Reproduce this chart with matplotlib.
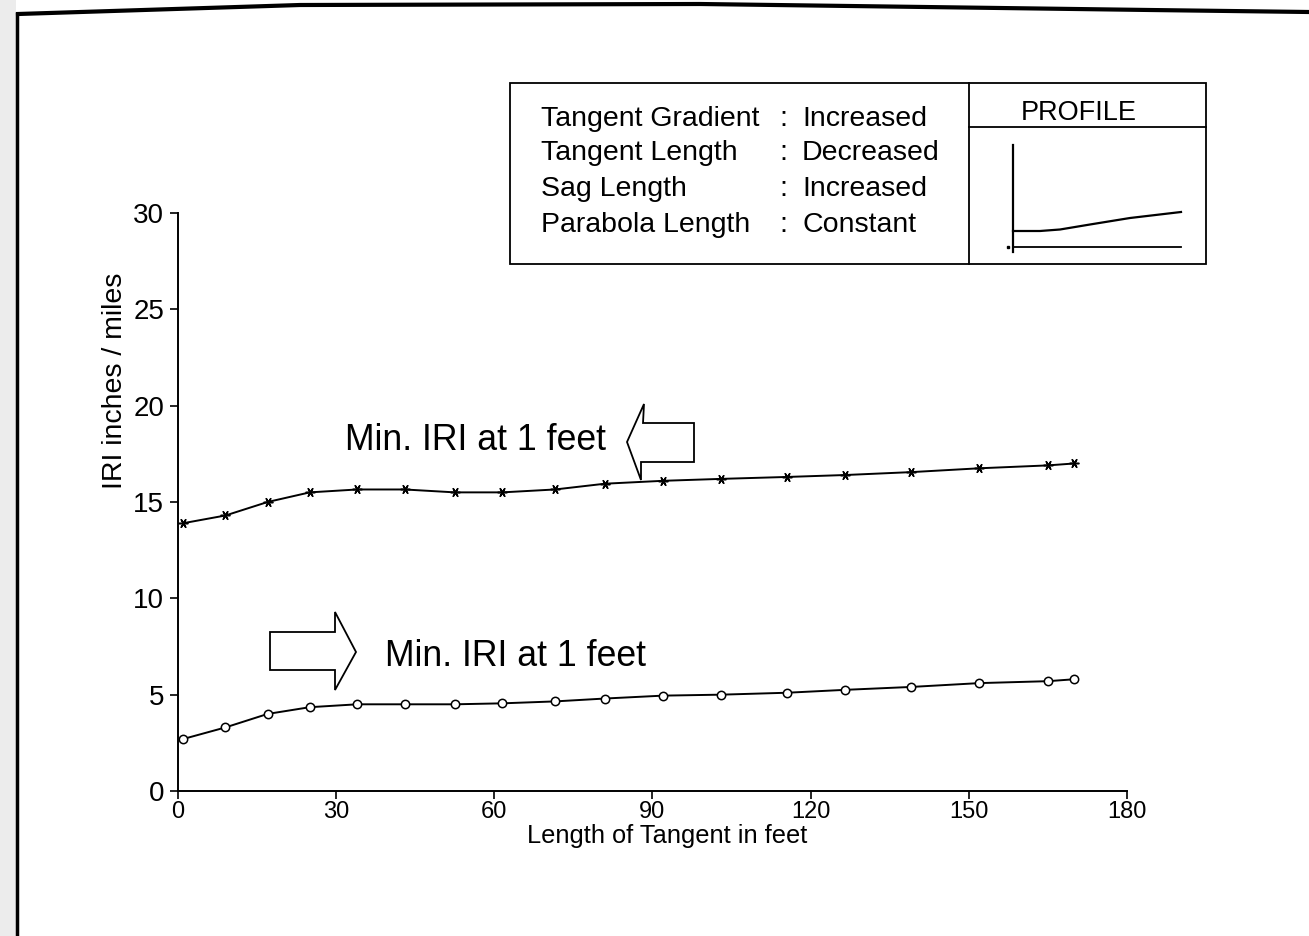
import matplotlib
matplotlib.use("Agg")
import matplotlib.pyplot as plt
import matplotlib.transforms as mtransforms
from matplotlib.patches import Polygon, Rectangle
from matplotlib.lines import Line2D
from matplotlib import font_manager

# ---- data -------------------------------------------------------------
tangent_length = [1, 9, 17, 25, 34, 43, 52.5, 61.5, 71.5, 81, 92, 103,
                  115.5, 126.5, 139, 152, 165, 170]
iri_upper = [13.9, 14.3, 15.0, 15.5, 15.65, 15.65, 15.5, 15.5, 15.65, 15.95,
             16.1, 16.2, 16.3, 16.4, 16.55, 16.75, 16.9, 17.0]
iri_lower = [2.7, 3.3, 4.0, 4.35, 4.5, 4.5, 4.5, 4.55, 4.65, 4.8, 4.95, 5.0,
             5.1, 5.25, 5.4, 5.6, 5.7, 5.8]

x_ticks = [0, 30, 60, 90, 120, 150, 180]
y_ticks = [0, 5, 10, 15, 20, 25, 30]

legend_params = ["Tangent Gradient", "Tangent Length", "Sag Length", "Parabola Length"]
legend_states = ["Increased", "Decreased", "Increased", "Constant"]

curve_label = "Min. IRI at 1 feet"

# ---- fonts --------------------------------------------------------------
names = {f.name for f in font_manager.fontManager.ttflist}
BASE = "Liberation Sans" if "Liberation Sans" in names else "DejaVu Sans"
plt.rcParams["font.family"] = [BASE, "DejaVu Sans"]

W, H = 1309, 936
fig = plt.figure(figsize=(W / 100, H / 100), dpi=100)
fig.patch.set_facecolor("white")

# pixel coordinates (origin top-left) for page decorations
px = mtransforms.Affine2D().scale(1 / W, -1 / H).translate(0, 1) + fig.transFigure

# ---- main axes ----------------------------------------------------------
x0, x1, ytop, ybot = 178, 1127, 213, 791
ax = fig.add_axes([x0 / W, 1 - ybot / H, (x1 - x0) / W, (ybot - ytop) / H])
ax.set_xlim(0, 180)
ax.set_ylim(0, 30)
for s in ("top", "right"):
    ax.spines[s].set_visible(False)
for s in ("left", "bottom"):
    ax.spines[s].set_linewidth(1.4)

ax.plot(tangent_length, iri_upper, color="black", lw=1.4,
        marker=(6, 2, 90), ms=7, mew=1.1, zorder=3)
ax.plot(tangent_length, iri_lower, color="black", lw=1.4,
        marker="o", ms=6, mfc="white", mec="black", mew=1.1, zorder=3)

ax.set_xticks(x_ticks)
ax.set_yticks(y_ticks)
ax.tick_params(axis="y", direction="out", length=6, width=1.2, pad=4, labelsize=20)
ax.tick_params(axis="x", direction="out", length=6, width=1.2, pad=1, labelsize=17)

fig.text(667 / W, 1 - 836 / H, "Length of Tangent in feet", ha="center", va="center",
         fontsize=18.3)
fig.text(115 / W, 1 - 381 / H, "IRI inches / miles", ha="center", va="center",
         rotation=90, fontsize=20.5)

# ---- curve annotations --------------------------------------------------
fig.text(345, 441, curve_label, transform=px, ha="left", va="center", fontsize=25.7)
fig.text(385, 657, curve_label, transform=px, ha="left", va="center", fontsize=25.7)

left_arrow = [(627, 442), (644, 404), (643, 423), (694, 423), (694, 462),
              (641, 462), (641, 480)]
right_arrow = [(270, 632), (335, 632), (335, 612), (356, 652), (335, 690),
               (335, 670), (270, 670)]
for pts in (left_arrow, right_arrow):
    fig.add_artist(Polygon(pts, closed=True, transform=px, facecolor="white",
                           edgecolor="black", lw=1.3, zorder=5))

# ---- parameter box ------------------------------------------------------
fig.add_artist(Rectangle((510, 83), 696, 181, transform=px, facecolor="white",
                         edgecolor="black", lw=1.3, zorder=4))
fig.add_artist(Line2D([969, 969], [83, 264], transform=px, color="black", lw=1.3, zorder=5))
fig.add_artist(Line2D([969, 1206], [127, 127], transform=px, color="black", lw=1.3, zorder=5))

row_y = [119, 153, 189, 225]
for name, state, yy in zip(legend_params, legend_states, row_y):
    fig.text(541, yy, name, transform=px, ha="left", va="center", fontsize=20.5, zorder=6)
    fig.text(779, yy, ":", transform=px, ha="left", va="center", fontsize=20.5, zorder=6)
    fig.text(802, yy, state, transform=px, ha="left", va="center", fontsize=20.5, zorder=6)
fig.text(1079, 113, "PROFILE", transform=px, ha="center", va="center", fontsize=19.5, zorder=6)

# profile sketch
sketch_x = [1013, 1040, 1060, 1090, 1130, 1181]
sketch_y = [231, 231, 229.5, 224.5, 218, 212]
fig.add_artist(Line2D(sketch_x, sketch_y, transform=px, color="black", lw=1.6, zorder=6))
fig.add_artist(Line2D([1013, 1013], [145, 252], transform=px, color="black", lw=1.6, zorder=6))
fig.add_artist(Line2D([1013, 1181], [247, 247], transform=px, color="black", lw=1.3, zorder=6))
fig.add_artist(Line2D([1008], [247], transform=px, color="black", marker="s", ms=2, zorder=6))

# ---- page frame ---------------------------------------------------------
fig.add_artist(Rectangle((0, 0), 16, H, transform=px, facecolor="#ececec",
                         edgecolor="none", zorder=1))
fig.add_artist(Line2D([18, 300, 700, 1150, 1309], [14, 5, 4, 10, 12], transform=px,
                      color="black", lw=3, zorder=7))
fig.add_artist(Line2D([17, 17], [14, 936], transform=px, color="black", lw=2.5, zorder=7))

fig.savefig("out.png", dpi=100, facecolor="white")
